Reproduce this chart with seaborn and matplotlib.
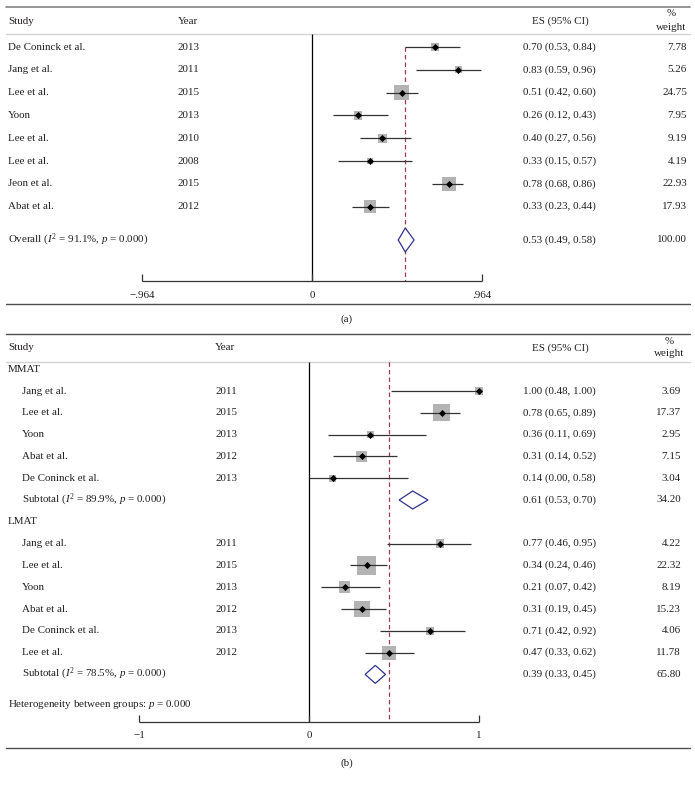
import numpy as np
import pandas as pd
import seaborn as sns
import matplotlib.pyplot as plt

# panel (a): all studies
studies_a = ["De Coninck et al.", "Jang et al.", "Lee et al.", "Yoon", "Lee et al.",
             "Lee et al.", "Jeon et al.", "Abat et al."]
years_a = [2013, 2011, 2015, 2013, 2010, 2008, 2015, 2012]
es_a = [0.70, 0.83, 0.51, 0.26, 0.40, 0.33, 0.78, 0.33]
lci_a = [0.53, 0.59, 0.42, 0.12, 0.27, 0.15, 0.68, 0.23]
uci_a = [0.84, 0.96, 0.60, 0.43, 0.56, 0.57, 0.86, 0.44]
weight_a = [7.78, 5.26, 24.75, 7.95, 9.19, 4.19, 22.93, 17.93]
overall_a = [0.53, 0.49, 0.58]
overall_w_a = 100.00
overall_i2_a = 91.1
ticks_a = [-0.964, 0, 0.964]
tick_labels_a = ["\u2212.964", "0", ".964"]

# panel (b): by subgroup
groups_b = ["MMAT", "LMAT"]
studies_b = [["Jang et al.", "Lee et al.", "Yoon", "Abat et al.", "De Coninck et al."],
             ["Jang et al.", "Lee et al.", "Yoon", "Abat et al.", "De Coninck et al.", "Lee et al."]]
years_b = [[2011, 2015, 2013, 2012, 2013], [2011, 2015, 2013, 2012, 2013, 2012]]
es_b = [[1.00, 0.78, 0.36, 0.31, 0.14], [0.77, 0.34, 0.21, 0.31, 0.71, 0.47]]
lci_b = [[0.48, 0.65, 0.11, 0.14, 0.00], [0.46, 0.24, 0.07, 0.19, 0.42, 0.33]]
uci_b = [[1.00, 0.89, 0.69, 0.52, 0.58], [0.95, 0.46, 0.42, 0.45, 0.92, 0.62]]
weight_b = [[3.69, 17.37, 2.95, 7.15, 3.04], [4.22, 22.32, 8.19, 15.23, 4.06, 11.78]]
subtotal_b = [[0.61, 0.53, 0.70], [0.39, 0.33, 0.45]]
subtotal_w_b = [34.20, 65.80]
subtotal_i2_b = [89.9, 78.5]
overall_es_b = 0.47
ticks_b = [-1, 0, 1]
tick_labels_b = ["\u22121", "0", "1"]

sns.set_style("white")
plt.rcParams["font.family"] = ["Liberation Serif", "DejaVu Serif"]
plt.rcParams["mathtext.fontset"] = "custom"
plt.rcParams["mathtext.rm"] = "Liberation Serif"
plt.rcParams["mathtext.it"] = "Liberation Serif:italic"

W, H = 695, 786
FS = 7.9
TXT = "#231f20"
BOX = "#b3b3b3"
LINE = "#333333"
DASH = "#a3364e"
DIAM = "#2e3192"

fig = plt.figure(figsize=(W / 100, H / 100), dpi=100)


def make_axes(zero_px, px_per_unit):
    ax = fig.add_axes([0, 0, 1, 1])
    ax.set_xlim(-zero_px / px_per_unit, (W - zero_px) / px_per_unit)
    ax.set_ylim(H, 0)
    ax.axis("off")
    ax.patch.set_visible(False)
    return ax


def put(ax, xpx, y, s, **kw):
    kw.setdefault("va", "center")
    ax.text(xpx / W, y, s, transform=ax.get_yaxis_transform(), fontsize=FS,
            color=TXT, **kw)


def rule(ax, y, color, lw=1.0):
    ax.axhline(y, xmin=6 / W, xmax=690 / W, color=color, lw=lw)


def forest_rows(ax, df, box_max_px, w_max):
    smax = (box_max_px * 0.72) ** 2
    ax.hlines(df["y"], df["lci"], df["uci"], color=LINE, lw=0.9, zorder=3)
    sns.scatterplot(data=df, x="es", y="y", size="w", sizes=(0, smax),
                    size_norm=(0, w_max), marker="s", color=BOX, linewidth=0,
                    legend=False, ax=ax, zorder=2)
    sns.scatterplot(data=df, x="es", y="y", marker="D", color="black", s=13,
                    linewidth=0, legend=False, ax=ax, zorder=4)


def diamond(ax, y, est, lo, hi, half_h):
    ax.fill([lo, est, hi, est, lo], [y, y - half_h, y, y + half_h, y],
            facecolor="white", edgecolor=DIAM, lw=0.9, zorder=4)


def bottom_axis(ax, y, ticks, labels):
    ax.hlines(y, ticks[0], ticks[-1], color=LINE, lw=0.9)
    ax.vlines(ticks, y - 7, y, color=LINE, lw=0.9)
    for t, lab in zip(ticks, labels):
        ax.text(t, y + 14, lab, ha="center", va="center", fontsize=FS, color=TXT)


def fmt_ci(e, lo, hi):
    return f"{e:.2f} ({lo:.2f}, {hi:.2f})"


# ---------------- panel (a) ----------------
ax = make_axes(312, 176)
row0, step = 47, 22.8
df_a = pd.DataFrame({"study": studies_a, "year": years_a, "es": es_a,
                     "lci": lci_a, "uci": uci_a, "w": weight_a})
df_a["y"] = row0 + step * np.arange(len(df_a))
y_over = 240
axis_y = 281

rule(ax, 7, "#8c8c8c", 1.3)
rule(ax, 34, "#d4d4d4", 1.0)
put(ax, 8, 21, "Study")
put(ax, 178, 21, "Year")
put(ax, 560, 21, "ES (95% CI)", ha="center")
put(ax, 671, 14, "%", ha="center")
put(ax, 671, 27, "weight", ha="center")

ax.vlines(0, 34, axis_y, color="black", lw=0.9)
ax.vlines(overall_a[0], row0, axis_y, color=DASH, lw=0.9, linestyles=(0, (3.5, 2.5)))
forest_rows(ax, df_a, 15, max(weight_a))
for _, r in df_a.iterrows():
    put(ax, 8, r["y"], r["study"])
    put(ax, 177, r["y"], str(r["year"]))
    put(ax, 523, r["y"], fmt_ci(r["es"], r["lci"], r["uci"]))
    put(ax, 687, r["y"], f"{r['w']:.2f}", ha="right")

diamond(ax, y_over, *overall_a, 12)
put(ax, 8, y_over, rf"Overall ($I^2$ = {overall_i2_a}%, $p$ = 0.000)")
put(ax, 523, y_over, fmt_ci(*overall_a))
put(ax, 687, y_over, f"{overall_w_a:.2f}", ha="right")

bottom_axis(ax, axis_y, ticks_a, tick_labels_a)
rule(ax, 304, "#4d4d4d", 1.0)
put(ax, 347, 319, "(a)", ha="center")

# ---------------- panel (b) ----------------
ax = make_axes(309, 170)
row0, step = 391, 21.8
axis_y = 722

rule(ax, 334, "#4d4d4d", 1.0)
rule(ax, 362, "#d4d4d4", 1.0)
put(ax, 8, 348, "Study")
put(ax, 215, 348, "Year")
put(ax, 560, 348, "ES (95% CI)", ha="center")
put(ax, 669, 341, "%", ha="center")
put(ax, 669, 354, "weight", ha="center")

ax.vlines(0, 362, axis_y, color="black", lw=0.9)
ax.vlines(overall_es_b, 362, axis_y, color=DASH, lw=0.9, linestyles=(0, (3.5, 2.5)))

idx = -1
w_max_b = max(max(w) for w in weight_b)
for g in range(len(groups_b)):
    put(ax, 8, row0 + step * idx, groups_b[g])
    idx += 1
    n = len(studies_b[g])
    df_g = pd.DataFrame({"study": studies_b[g], "year": years_b[g], "es": es_b[g],
                         "lci": lci_b[g], "uci": uci_b[g], "w": weight_b[g]})
    df_g["y"] = row0 + step * (idx + np.arange(n))
    forest_rows(ax, df_g, 19, w_max_b)
    for _, r in df_g.iterrows():
        put(ax, 22, r["y"], r["study"])
        put(ax, 215, r["y"], str(r["year"]))
        put(ax, 523, r["y"], fmt_ci(r["es"], r["lci"], r["uci"]))
        put(ax, 681, r["y"], f"{r['w']:.2f}", ha="right")
    idx += n
    ys = row0 + step * idx
    diamond(ax, ys, *subtotal_b[g], 9)
    put(ax, 22, ys, rf"Subtotal ($I^2$ = {subtotal_i2_b[g]}%, $p$ = 0.000)")
    put(ax, 523, ys, fmt_ci(*subtotal_b[g]))
    put(ax, 681, ys, f"{subtotal_w_b[g]:.2f}", ha="right")
    idx += 1

put(ax, 8, row0 + step * (idx + 0.4), r"Heterogeneity between groups: $p$ = 0.000")
bottom_axis(ax, axis_y, ticks_b, tick_labels_b)
rule(ax, 748, "#4d4d4d", 1.0)
put(ax, 347, 763, "(b)", ha="center")

fig.savefig("out.png", dpi=100)
